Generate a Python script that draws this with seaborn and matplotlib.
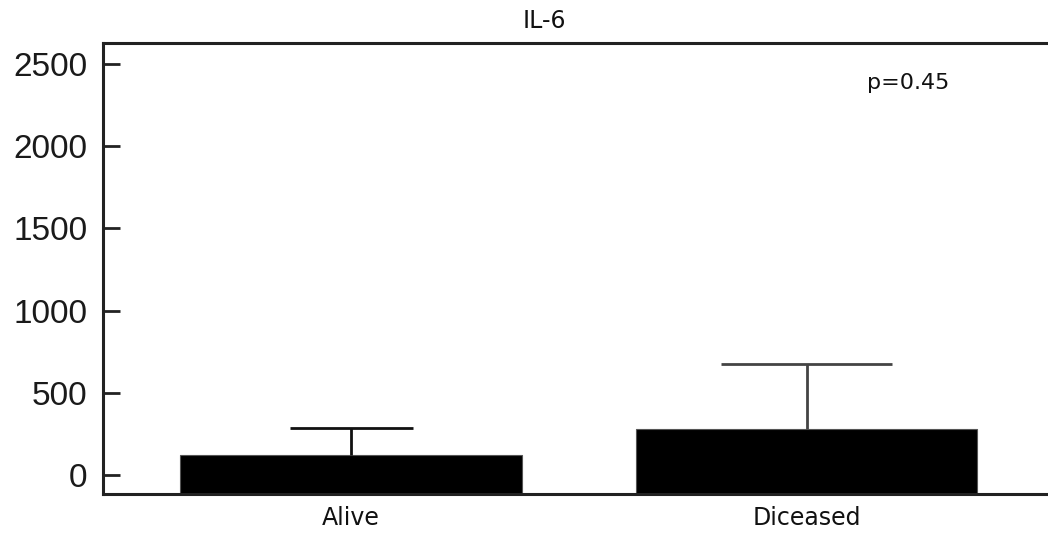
#!/usr/bin/env python3
"""IL-6 bar chart: Alive vs Diceased"""
import matplotlib
matplotlib.use("Agg")
import matplotlib.pyplot as plt
import seaborn as sns
import pandas as pd

# data
groups = ["Alive", "Diceased"]
means = [122, 280]
upper_err = [164, 395]
err_colors = ["#111111", "#444444"]
cap_half = [0.135, 0.188]   # cap half width, category units
yticks = [0, 500, 1000, 1500, 2000, 2500]
p_text = "p=0.45"

sns.set_theme(style="white")
plt.rcParams["font.family"] = ["DejaVu Sans"]

df = pd.DataFrame({"group": groups, "value": means})

fig = plt.figure(figsize=(10.48, 5.38), dpi=100)
ax = fig.add_axes([0.0983, 0.0818, 0.9017, 0.838])

sns.barplot(data=df, x="group", y="value", color="black", width=0.75,
            errorbar=None, ax=ax, saturation=1, edgecolor="#555555", linewidth=0.8)

ylo, yhi = -116, 2628
ax.set_ylim(ylo, yhi)
ax.set_xlim(-0.545, 1.53)

# bars in the reference sit on the bottom of the frame, not on zero
for patch, m in zip(ax.patches, means):
    patch.set_y(ylo)
    patch.set_height(m - ylo)

# upper-only error bars (no cap at the bar top)
for i, (m, e, c, hw) in enumerate(zip(means, upper_err, err_colors, cap_half)):
    ax.vlines(i, m, m + e, colors=c, linewidth=2, zorder=3)
    ax.hlines(m + e, i - hw, i + hw, colors=c, linewidth=2, zorder=3)

ax.set_yticks(yticks)
ax.set_yticklabels([str(t) for t in yticks], family="Liberation Sans", fontsize=24,
                   color="#1a1a1a")
ax.tick_params(axis="y", left=True, direction="in", length=12, width=2,
               color="#222222", pad=11)
ax.tick_params(axis="x", length=0, labelsize=17, pad=9, labelcolor="#111111")
ax.set_xlabel("")
ax.set_ylabel("")

for side in ["left", "bottom", "top"]:
    ax.spines[side].set_visible(True)
    ax.spines[side].set_linewidth(2.2)
    ax.spines[side].set_color("#222222")
ax.spines["right"].set_visible(False)

ax.text(0.896, 0.933, p_text, transform=ax.transAxes, ha="right", va="top",
        fontsize=16, color="#111111")
fig.text(544 / 1048, 1 - 21 / 538, "IL-6", ha="center", va="center",
         fontsize=17, color="#111111")

fig.savefig("out.png", dpi=100)
